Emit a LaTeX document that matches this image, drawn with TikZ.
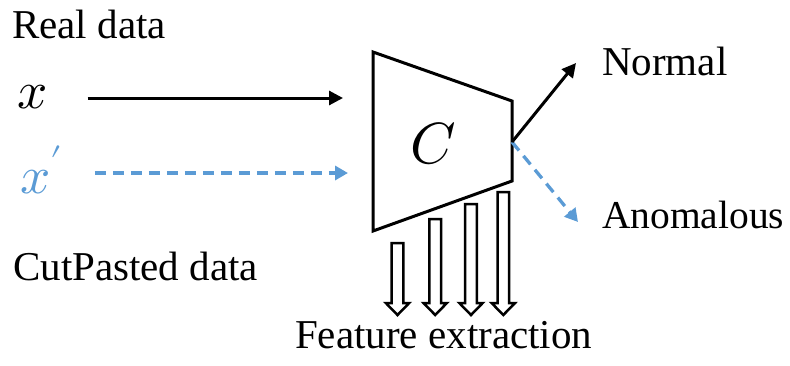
\documentclass[tikz,border=0pt]{standalone}
\usepackage{fontspec}
\usepackage{unicode-math}
\setmainfont{Liberation Serif}
\setmathfont{Latin Modern Math}
\usetikzlibrary{arrows.meta}
\definecolor{cpblue}{HTML}{5B9BD5}
\begin{document}
\begin{tikzpicture}[x=1pt,y=-1pt,
  lbl/.style={anchor=base west,inner sep=0pt,font=\fontsize{41}{48}\selectfont},
  mathlbl/.style={anchor=base west,inner sep=0pt,font=\fontsize{53}{60}\selectfont},
  solidarr/.style={line width=3pt,-{Triangle[length=14pt,width=14pt]}},
  dasharr/.style={line width=3.3pt,cpblue,dash pattern=on 11pt off 7pt,-{Triangle[length=13pt,width=14pt]}},
  blockarr/.style={line width=2.5pt,fill=white,line join=miter}]
\useasboundingbox (0,0) rectangle (790,365);
% texts
\node[lbl] (real) at (12,38) {Real data};
\node[lbl] (cut) at (13,280) {CutPasted data};
\node[lbl] (feat) at (295,348) {Feature extraction};
\node[lbl] (normal) at (602,75) {Normal};
\node[lbl,font=\fontsize{39.5}{48}\selectfont] (anom) at (602,228) {Anomalous};
\node[mathlbl] (x) at (17,108) {$x$};
\node[mathlbl,text=cpblue] (xp) at (20,193) {$x'$};
% classifier
\coordinate (tl) at (373,52);
\coordinate (tr) at (512,101);
\coordinate (br) at (512,181);
\coordinate (bl) at (373,231);
\draw[line width=3pt,line join=miter] (tl) -- (tr) -- (br) -- (bl) -- cycle;
\node[inner sep=0pt,font=\fontsize{58}{60}\selectfont] (C) at (433,144) {$C$};
% inputs
\coordinate (xe) at (343,98);
\coordinate (xpe) at (348,173);
\draw[solidarr,shorten <=40pt] (x.east |- xe) -- (xe);
\draw[dasharr,shorten <=32pt] (xp.east |- xpe) -- (xpe);
% outputs
\coordinate (out) at (512,142);
\coordinate (ntip) at (576,63);
\coordinate (atip) at (578,222);
\draw[dasharr] (out) -- (atip);
\draw[solidarr] (out) -- (ntip);
% feature extraction arrows
\foreach \cx/\ty in {397.5/243, 435.2/219, 471/204, 503.3/192}{
  \draw[blockarr] (\cx-5.8,\ty) -- (\cx+5.8,\ty) -- (\cx+5.8,303) -- (\cx+11.7,303)
    -- (\cx,315) -- (\cx-11.7,303) -- (\cx-5.8,303) -- cycle;
}
\end{tikzpicture}
\end{document}
